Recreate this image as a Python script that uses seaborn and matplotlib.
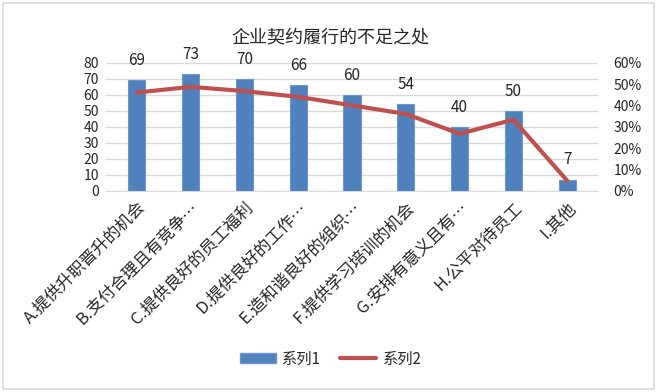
import numpy as np
import pandas as pd
import matplotlib
matplotlib.use('Agg')
import matplotlib.pyplot as plt
import seaborn as sns
from matplotlib.patches import Patch, Rectangle
from matplotlib.lines import Line2D
from matplotlib.ticker import PercentFormatter

# data
categories = ['A.提供升职晋升的机会', 'B.支付合理且有竞争…', 'C.提供良好的员工福利',
              'D.提供良好的工作…', 'E.造和谐良好的组织…', 'F.提供学习培训的机会',
              'G.安排有意义且有…', 'H.公平对待员工', 'I.其他']
series1 = [69, 73, 70, 66, 60, 54, 40, 50, 7]
series2 = [0.46, 0.487, 0.467, 0.44, 0.40, 0.36, 0.267, 0.333, 0.047]
left_ticks = [0, 10, 20, 30, 40, 50, 60, 70, 80]
right_ticks = [0, 0.1, 0.2, 0.3, 0.4, 0.5, 0.6]

bar_color = '#4F81BD'
line_color = '#C0504D'
grid_color = '#D9D9D9'

sns.set_style('white')
plt.rcParams['font.family'] = ['Noto Sans CJK SC', 'DejaVu Sans']

df = pd.DataFrame({'cat': categories, 's1': series1, 's2': series2})

fig = plt.figure(figsize=(6.61, 3.92), dpi=100)
ax = fig.add_axes([0.160, 0.5135, 0.745, 0.3265])

sns.barplot(data=df, x='cat', y='s1', ax=ax, color=bar_color, width=0.32,
            edgecolor='#6F97CA', linewidth=0.8, saturation=1, zorder=3)
ax.set_ylim(0, 80)
ax.set_yticks(left_ticks)
ax.set_xlabel('')
ax.set_ylabel('')
ax.grid(axis='y', color=grid_color, linewidth=1, zorder=0)
ax.set_axisbelow(True)
for s in ['top', 'right', 'left']:
    ax.spines[s].set_visible(False)
ax.spines['bottom'].set_color(grid_color)
ax.tick_params(axis='y', length=0, labelsize=10, pad=5)
ax.tick_params(axis='x', length=0, labelsize=12, pad=6)
plt.setp(ax.get_xticklabels(), rotation=45, ha='right', rotation_mode='anchor')

# value labels above bars
for i, v in enumerate(series1):
    ax.annotate(str(v), (i, v), xytext=(0, 8), textcoords='offset points',
                ha='center', va='bottom', fontsize=11)

ax2 = ax.twinx()
ax2.plot(range(len(categories)), series2, color=line_color, linewidth=3,
         solid_capstyle='round', zorder=4)
ax2.set_ylim(0, 0.6)
ax2.set_yticks(right_ticks)
ax2.yaxis.set_major_formatter(PercentFormatter(1.0, decimals=0))
ax2.tick_params(axis='y', length=0, labelsize=10, pad=11)
for s in ['top', 'right', 'left', 'bottom']:
    ax2.spines[s].set_visible(False)

fig.text(0.5, 0.905, '企业契约履行的不足之处', ha='center', va='center', fontsize=13)

handles = [Patch(facecolor=bar_color, edgecolor='#6F97CA'),
           Line2D([0], [0], color=line_color, linewidth=3)]
fig.legend(handles, ['系列1', '系列2'], loc='center', bbox_to_anchor=(0.5, 0.084),
           ncol=2, frameon=False, fontsize=11, handlelength=2.4, handleheight=0.6,
           columnspacing=1.2, handletextpad=0.4)

fig.patches.append(Rectangle((0.005, 0.008), 0.985, 0.985, transform=fig.transFigure,
                             fill=False, edgecolor=grid_color, linewidth=1.2))

fig.savefig('out.png', dpi=100)
